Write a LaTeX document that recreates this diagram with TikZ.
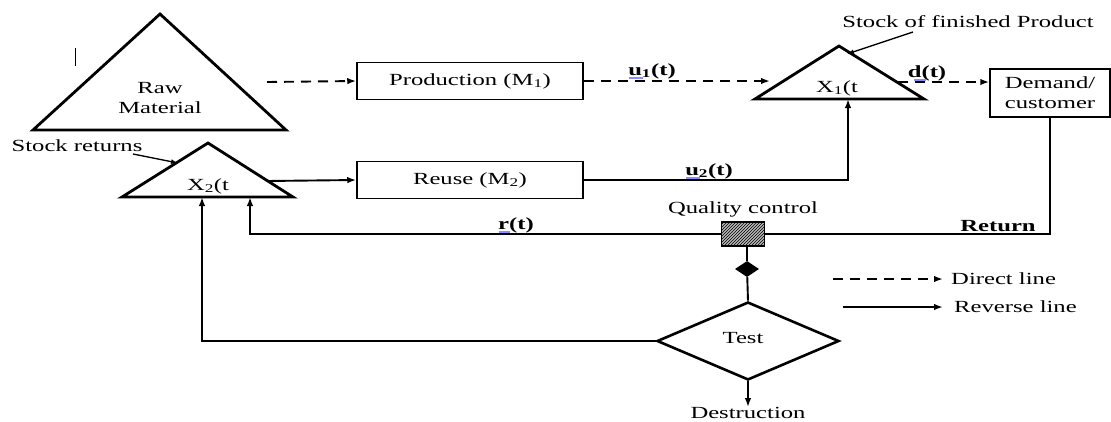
\documentclass[tikz,border=0pt]{standalone}
\usepackage{fontspec}
\setmainfont{Liberation Serif}[FakeStretch=1.45]
\usetikzlibrary{arrows.meta,patterns,shapes.geometric}
\begin{document}
\begin{tikzpicture}[x=1pt,y=-1pt,
  font=\fontsize{17}{20}\selectfont,
  tri/.style={line width=2.8pt, line join=miter},
  box/.style={draw, line width=1.5pt, minimum width=226pt, minimum height=37pt, inner sep=0pt},
  conn/.style={line width=1.9pt, -{Latex[length=9pt,width=6.5pt]}},
  dconn/.style={conn, dash pattern=on 10pt off 7pt},
  plain/.style={line width=1.9pt},
  lbl/.style={inner sep=0pt, font=\fontsize{17}{20}\selectfont\bfseries},
  txt/.style={inner sep=0pt},
  spell/.style={draw=blue!45, line width=1.6pt}]
\useasboundingbox (0,0) rectangle (1111,421);
% stray mark
\coordinate (mk1) at (75,48); \coordinate (mk2) at (75,66);
\draw[line width=0.8pt] (mk1) -- (mk2);
% Raw material
\coordinate (rmA) at (160,14); \coordinate (rmL) at (33,130); \coordinate (rmR) at (286,130);
\draw[tri] (rmA) -- (rmL) -- (rmR) -- cycle;
\node[txt, align=center] (raw) at (160,98) {Raw\\Material};
% Production
\node[box] (prod) at (470,81) {Production (M\textsubscript{1})};
\coordinate (rmout) at (267,82);
\draw[dconn] (rmout) -- (prod.west);
% X1
\coordinate (x1A) at (839,46); \coordinate (x1L) at (755,99); \coordinate (x1R) at (924,99);
\draw[tri] (x1A) -- (x1L) -- (x1R) -- cycle;
\node[txt] (x1t) at (837,88) {X\textsubscript{1}(t};
\coordinate (x1in) at (770,81);
\draw[dconn] (prod.east) -- (x1in);
\node[lbl] (u1) at (652,71) {u\textsubscript{1}(t)};
\coordinate (sp1a) at (629,78); \coordinate (sp1b) at (643,78);
\draw[spell] (sp1a) -- (sp1b);
% stock of finished product
\node[txt] (sfp) at (968,22) {Stock of finished Product};
\coordinate (sfpa) at (913,32); \coordinate (sfpb) at (847,54);
\draw[line width=1.3pt, -{Latex[length=7pt,width=5pt]}] (sfpa) -- (sfpb);
% Demand
\node[draw, line width=1.5pt, minimum width=120pt, minimum height=48pt, inner sep=0pt, align=center] (dem) at (1050,93) {Demand/\\customer};
\coordinate (x1out) at (898,82);
\draw[dconn] (x1out) -- (x1out -| dem.west);
\node[lbl] (dt) at (927,73) {d(t)};
\coordinate (sp2a) at (914,80); \coordinate (sp2b) at (926,80);
\draw[spell] (sp2a) -- (sp2b);
% X2
\coordinate (x2A) at (208,143); \coordinate (x2L) at (122,197); \coordinate (x2R) at (293,197);
\draw[tri] (x2A) -- (x2L) -- (x2R) -- cycle;
\node[txt] (x2t) at (208,186) {X\textsubscript{2}(t};
\node[txt] (sr) at (77,146) {Stock returns};
\coordinate (sra) at (133,154); \coordinate (srb) at (178,163);
\draw[line width=1.3pt, -{Latex[length=7pt,width=5pt]}] (sra) -- (srb);
% Reuse
\node[box] (reuse) at (470,180) {Reuse (M\textsubscript{2})};
\coordinate (x2out) at (267,181);
\draw[conn] (x2out) -- (reuse.west);
\coordinate (x1b) at (848,99);
\draw[conn] (reuse.east) -| (x1b);
\node[lbl] (u2) at (709,171) {u\textsubscript{2}(t)};
\coordinate (sp3a) at (686,178); \coordinate (sp3b) at (700,178);
\draw[spell] (sp3a) -- (sp3b);
% Quality control
\node[draw, line width=1.2pt, minimum width=43pt, minimum height=24pt, inner sep=0pt, fill=gray!55,
  postaction={pattern=north east lines}] (qc) at (743,234) {};
\node[txt] (qcl) at (743,209) {Quality control};
\draw[plain] (dem.south) |- (qc.east);
\node[lbl] (ret) at (998,226) {Return};
\coordinate (x2r) at (250,197);
\draw[conn] (qc.west) -| (x2r);
\node[lbl] (rt) at (516,225) {r(t)};
\coordinate (sp4a) at (499,232); \coordinate (sp4b) at (510,232);
\draw[spell] (sp4a) -- (sp4b);
% Test
\node[diamond, draw, line width=2.6pt, aspect=2.33, minimum width=182pt, minimum height=78pt, inner sep=0pt] (test) at (748,341) {};
\node[txt] (testt) at (743,338) {Test};
\node[diamond, fill=black, minimum width=24pt, minimum height=16pt, inner sep=0pt] (qcd) at (747,269) {};
\draw[plain] (qc.south -| qcd) -- (qcd) -- (test.north);
\coordinate (x2b) at (202,197);
\draw[conn] (test.west) -| (x2b);
\node[txt] (destr) at (748,413) {Destruction};
\draw[conn] (test.south) -- (destr.north);
% Legend
\coordinate (lg1a) at (833,279); \coordinate (lg1b) at (943,279);
\draw[dconn] (lg1a) -- (lg1b);
\node[txt, anchor=west] (lg1) at (951,279) {Direct line};
\coordinate (lg2a) at (843,307); \coordinate (lg2b) at (943,307);
\draw[conn] (lg2a) -- (lg2b);
\node[txt, anchor=west] (lg2) at (954,307) {Reverse line};
\end{tikzpicture}
\end{document}
